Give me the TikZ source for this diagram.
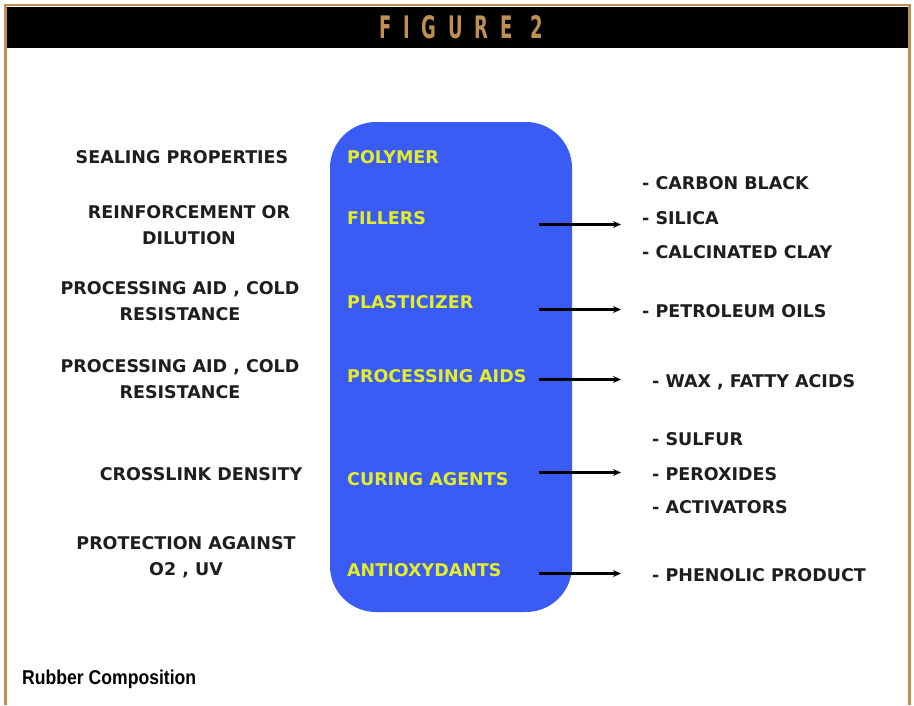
\documentclass[tikz,border=0pt]{standalone}
\usepackage{fontspec}
\setmainfont{DejaVu Sans}
\newfontfamily\titlefont[LetterSpace=38,FakeStretch=0.58]{DejaVu Sans}
\newfontfamily\capfont[FakeStretch=0.88]{Liberation Sans}
\usetikzlibrary{arrows.meta}
\definecolor{tan}{RGB}{190,145,82}
\definecolor{boxblue}{RGB}{58,92,245}
\definecolor{ylw}{RGB}{228,238,40}
\definecolor{txt}{RGB}{30,30,30}
\tikzset{
  lefttxt/.style={font=\bfseries\fontsize{17.5}{26}\selectfont, text=txt, align=center, inner sep=0pt},
  intxt/.style={font=\bfseries\fontsize{17.5}{26}\selectfont, text=ylw, anchor=base west, inner sep=0pt},
  righttxt/.style={font=\bfseries\fontsize{17.5}{26}\selectfont, text=txt, anchor=base west, inner sep=0pt},
  arr/.style={line width=2.8pt, -{Stealth[length=8pt,width=7pt]}, black}
}
\begin{document}
\begin{tikzpicture}[x=1pt,y=-1pt]
\useasboundingbox (0,0) rectangle (914,705);
% frame
\fill[white] (0,0) rectangle (914,705);
\draw[tan, line width=2.2pt] (5.5,705) -- (5.5,5) -- (909.5,5) -- (909.5,705);
\fill[black] (6.6,7) rectangle (908.4,48);
\node[font=\titlefont\bfseries\fontsize{31}{31}\selectfont, text=tan, anchor=center] (title) at (461,27.5) {FIGURE 2};
% blue box
\fill[boxblue, rounded corners=46pt] (330,122) rectangle (572,612);
% inner labels
\node[intxt] (poly) at (347,163.5) {POLYMER};
\node[intxt] (fill) at (347,224.5) {FILLERS};
\node[intxt] (plas) at (347,308.5) {PLASTICIZER};
\node[intxt] (proc) at (347,382.5) {PROCESSING AIDS};
\node[intxt] (cure) at (347,485.5) {CURING AGENTS};
\node[intxt] (anti) at (347,576.5) {ANTIOXYDANTS};
% left labels
\node[lefttxt] (l1) at (182,157) {SEALING PROPERTIES};
\node[lefttxt] (l2) at (189,225) {REINFORCEMENT OR\\DILUTION};
\node[lefttxt] (l3) at (180,301) {PROCESSING AID , COLD\\RESISTANCE};
\node[lefttxt] (l4) at (180,379) {PROCESSING AID , COLD\\RESISTANCE};
\node[lefttxt] (l5) at (201,474) {CROSSLINK DENSITY};
\node[lefttxt] (l6) at (186,557.5) {PROTECTION AGAINST\\O2 , UV};
% right labels
\node[righttxt] (r1) at (642,189.5) {- CARBON BLACK};
\node[righttxt] (r2) at (642,224.5) {- SILICA};
\node[righttxt] (r3) at (642,258.5) {- CALCINATED CLAY};
\node[righttxt] (r4) at (642,317.5) {- PETROLEUM OILS};
\node[righttxt] (r5) at (652,387.5) {- WAX , FATTY ACIDS};
\node[righttxt] (r6) at (652,445.5) {- SULFUR};
\node[righttxt] (r7) at (652,480.5) {- PEROXIDES};
\node[righttxt] (r8) at (652,513.5) {- ACTIVATORS};
\node[righttxt] (r9) at (652,581.5) {- PHENOLIC PRODUCT};
% arrows
\coordinate (s1) at (539,224.5); \coordinate (e1) at (621,224.5);
\coordinate (s2) at (539,309.5); \coordinate (e2) at (621,309.5);
\coordinate (s3) at (539,379.5); \coordinate (e3) at (621,379.5);
\coordinate (s4) at (539,472.5); \coordinate (e4) at (621,472.5);
\coordinate (s5) at (539,573.5); \coordinate (e5) at (621,573.5);
\draw[arr] (s1) -- (e1);
\draw[arr] (s2) -- (e2);
\draw[arr] (s3) -- (e3);
\draw[arr] (s4) -- (e4);
\draw[arr] (s5) -- (e5);
% caption
\node[font=\capfont\bfseries\fontsize{20}{20}\selectfont, anchor=base west, inner sep=0pt] (cap) at (22,684.5) {Rubber Composition};
\end{tikzpicture}
\end{document}
